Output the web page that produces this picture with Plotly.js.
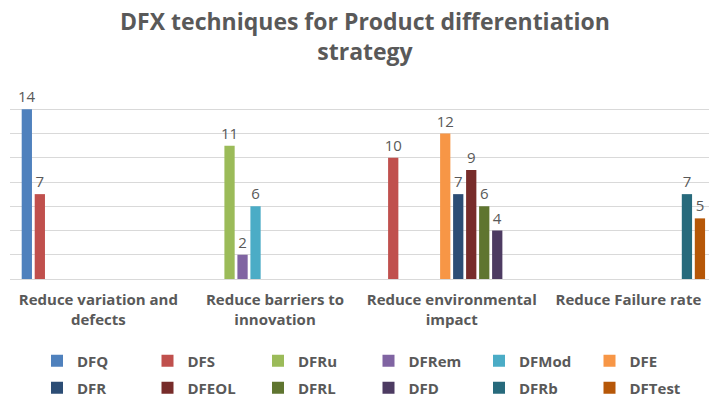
<!DOCTYPE html>
<html>
<head>
<meta charset="utf-8">
<script src="https://cdn.plot.ly/plotly-3.0.1.min.js"></script>
<style>html,body{margin:0;padding:0;background:#fff;}#chart{width:709px;height:400px;}</style>
</head>
<body>
<div id="chart"></div>
<script>
const categories = ["Reduce variation and<br>defects", "Reduce barriers to<br>innovation", "Reduce environmental<br>impact", "Reduce Failure rate"];
const seriesNames = ["DFQ", "DFS", "DFRu", "DFRem", "DFMod", "DFE", "DFR", "DFEOL", "DFRL", "DFD", "DFRb", "DFTest"];
const DFQ    = [14, null, null, null];
const DFS    = [7, null, 10, null];
const DFRu   = [null, 11, null, null];
const DFRem  = [null, 2, null, null];
const DFMod  = [null, 6, null, null];
const DFE    = [null, null, 12, null];
const DFR    = [null, null, 7, null];
const DFEOL  = [null, null, 9, null];
const DFRL   = [null, null, 6, null];
const DFD    = [null, null, 4, null];
const DFRb   = [null, null, null, 7];
const DFTest = [null, null, null, 5];
const seriesValues = [DFQ, DFS, DFRu, DFRem, DFMod, DFE, DFR, DFEOL, DFRL, DFD, DFRb, DFTest];
const colors = ["#4F81BD", "#C0504D", "#9BBB59", "#8064A2", "#4BACC6", "#F79646",
                "#2C4D75", "#772C2A", "#5F7530", "#4D3B62", "#276A7C", "#B65708"];

const txt = "#595959";
const traces = seriesNames.map((name, i) => ({
  type: "bar",
  name: name,
  x: categories,
  y: seriesValues[i],
  marker: {color: colors[i]},
  text: seriesValues[i].map(v => v === null ? "" : String(v)),
  textposition: "outside",
  constraintext: "none",
  cliponaxis: false,
  textfont: {family: "Open Sans", size: 15, color: txt},
  hoverinfo: "skip",
  legend: i < 6 ? "legend" : "legend2"
}));

const legendCommon = {
  orientation: "h",
  xref: "container", yref: "container",
  xanchor: "left", yanchor: "middle",
  entrywidth: 65.5, entrywidthmode: "pixels",
  font: {family: "Open Sans", size: 15, color: txt, weight: "bold"},
  bgcolor: "rgba(0,0,0,0)",
  traceorder: "normal"
};

const layout = {
  width: 709, height: 400,
  margin: {l: 10, r: 0, t: 85, b: 121},
  paper_bgcolor: "#fff", plot_bgcolor: "#fff",
  barmode: "group",
  bargap: 0.117,
  bargroupgap: 0.21,
  title: {
    text: "DFX techniques for Product differentiation<br>strategy",
    font: {family: "Open Sans", size: 23, color: txt, weight: "bold"},
    xref: "container", x: 365/709, xanchor: "center",
    yref: "container", y: 1 - 30/400, yanchor: "top"
  },
  xaxis: {
    type: "category",
    range: [-0.5, 3.456],
    showgrid: false, zeroline: false, showline: false,
    ticks: "",
    ticklabelstandoff: 10,
    tickfont: {family: "Open Sans", size: 15, color: txt, weight: "bold"},
    fixedrange: true
  },
  yaxis: {
    range: [0, 16],
    dtick: 2,
    showticklabels: false,
    showgrid: true, gridcolor: "#D9D9D9", gridwidth: 1,
    zeroline: true, zerolinecolor: "#D9D9D9", zerolinewidth: 1,
    showline: false, ticks: "",
    fixedrange: true
  },
  legend: Object.assign({}, legendCommon, {x: 37/709, y: 1 - 361/400}),
  legend2: Object.assign({}, legendCommon, {x: 37/709, y: 1 - 388/400})
};

Plotly.newPlot("chart", traces, layout, {displayModeBar: false, staticPlot: true});
</script>
</body>
</html>
